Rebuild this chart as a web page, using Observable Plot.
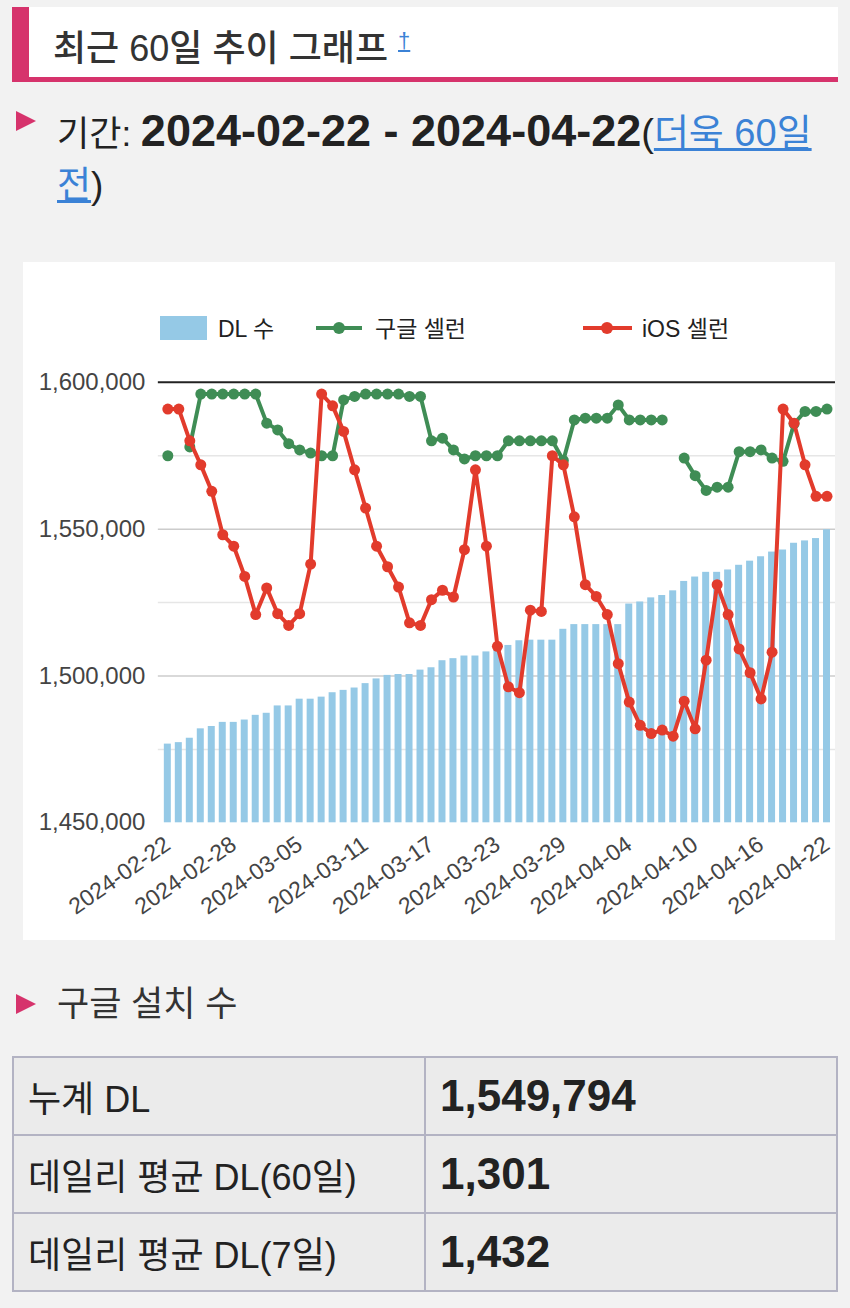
<!DOCTYPE html>
<html><head><meta charset="utf-8">
<script src="https://cdn.jsdelivr.net/npm/d3@7"></script>
<script src="https://cdn.jsdelivr.net/npm/@observablehq/plot@0.6"></script>
<style>
body{margin:0;background:#f2f2f2;width:850px;height:1308px;position:relative;overflow:hidden;font-family:"Liberation Sans","Noto Sans CJK KR",sans-serif;color:#222;}
.abs{position:absolute;white-space:nowrap;}
.hdr{position:absolute;left:12px;top:7px;width:809px;height:70px;background:#fff;border-left:17px solid #d6336c;border-bottom:5px solid #d6336c;}
.tri{position:absolute;width:0;height:0;border-left:20px solid #d6336c;border-top:10px solid transparent;border-bottom:10px solid transparent;}
a{color:#3b82d6;text-decoration:underline;}
.panel{position:absolute;left:23px;top:262px;width:812px;height:678px;background:#fff;}
.leg{position:absolute;font-size:23px;color:#222;line-height:24px;}
table{position:absolute;left:12px;top:1056px;width:826px;border-collapse:collapse;}
td{border:2px solid #b3b3c3;background:#ebebeb;height:76px;padding:0 0 0 14px;font-size:36px;color:#222;}
td.v{font-weight:bold;font-size:44px;}
#chart svg [aria-label^="x-axis"] text{font-size:23px;}
#chart svg [aria-label^="y-axis"] text{font-size:24px;}
</style></head>
<body>
<div class="hdr"><div class="abs" style="left:24px;top:12px;font-size:36px;font-weight:500;color:#333;line-height:44px;">최근 60일 추이 그래프 <sup style="font-size:22px;"><a>†</a></sup></div></div>

<div class="tri" style="left:16px;top:111px;"></div>
<div class="abs" style="left:57px;top:106px;font-size:38px;line-height:50px;color:#222;"><span style="font-size:35px;">기간: </span><b style="font-size:45px;">2024-02-22 - 2024-04-22</b>(<a>더욱 60일</a></div>
<div class="abs" style="left:57px;top:162px;font-size:37px;line-height:48px;color:#222;"><a>전</a>)</div>

<div class="panel">
  <div class="leg" style="left:137px;top:54px;width:47px;height:24px;background:#95c9e6;"></div>
  <div class="leg" style="left:195px;top:55px;">DL 수</div>
  <div class="leg" style="left:293px;top:64px;width:46px;height:4px;background:#3f8d55;"></div>
  <div class="leg" style="left:310px;top:60px;width:12px;height:12px;border-radius:6px;background:#3f8d55;"></div>
  <div class="leg" style="left:352px;top:55px;">구글 셀런</div>
  <div class="leg" style="left:560px;top:64px;width:49px;height:4px;background:#e23b2c;"></div>
  <div class="leg" style="left:578px;top:60px;width:12px;height:12px;border-radius:6px;background:#e23b2c;"></div>
  <div class="leg" style="left:619px;top:55px;">iOS 셀런</div>
  <div id="chart" style="position:absolute;left:0;top:0;"></div>
</div>

<div class="tri" style="left:16px;top:994px;"></div>
<div class="abs" style="left:57px;top:981px;font-size:35px;line-height:46px;color:#333;">구글 설치 수</div>

<table>
<tr><td style="width:396px;">누계 DL</td><td class="v">1,549,794</td></tr>
<tr><td>데일리 평균 DL(60일)</td><td class="v">1,301</td></tr>
<tr><td>데일리 평균 DL(7일)</td><td class="v">1,432</td></tr>
</table>

<script>
const dates = ["2024-02-22","2024-02-23","2024-02-24","2024-02-25","2024-02-26","2024-02-27","2024-02-28","2024-02-29",
"2024-03-01","2024-03-02","2024-03-03","2024-03-04","2024-03-05","2024-03-06","2024-03-07","2024-03-08","2024-03-09","2024-03-10",
"2024-03-11","2024-03-12","2024-03-13","2024-03-14","2024-03-15","2024-03-16","2024-03-17","2024-03-18","2024-03-19","2024-03-20",
"2024-03-21","2024-03-22","2024-03-23","2024-03-24","2024-03-25","2024-03-26","2024-03-27","2024-03-28","2024-03-29","2024-03-30",
"2024-03-31","2024-04-01","2024-04-02","2024-04-03","2024-04-04","2024-04-05","2024-04-06","2024-04-07","2024-04-08","2024-04-09",
"2024-04-10","2024-04-11","2024-04-12","2024-04-13","2024-04-14","2024-04-15","2024-04-16","2024-04-17","2024-04-18","2024-04-19",
"2024-04-20","2024-04-21","2024-04-22"];
// cumulative downloads (DL 수)
const dl = [1476800,1477300,1478800,1482000,1482800,1484200,1484200,1485000,1486600,1487300,1489800,1489800,1492100,1492100,1492800,
1494300,1495100,1495900,1497400,1499000,1500200,1500500,1500500,1502000,1502800,1505200,1505900,1506800,1506800,1508200,1509800,
1510400,1512000,1512200,1512200,1512200,1515900,1517500,1517500,1517500,1517500,1517500,1524500,1525200,1526600,1527400,1529000,
1532200,1533700,1535300,1535300,1536100,1537700,1539100,1540600,1542200,1542900,1545200,1546000,1546800,1549794];
// Google seller rank line, in chart units
const google = [1575000,null,1578000,1596000,1596000,1596000,1596000,1596000,1596000,1586100,1583800,1579100,1577000,1575900,1575000,
1575000,1594000,1595200,1596000,1596000,1596000,1596000,1595200,1595200,1580100,1581000,1577000,1573900,1575000,1575000,1575000,
1580100,1580100,1580100,1580100,1580100,1573400,1587200,1587800,1587800,1587800,1592300,1587200,1587200,1587200,1587200,null,
1574200,1568200,1563200,1564300,1564300,1576400,1576400,1577000,1574200,1573100,1585900,1590100,1590100,1590900];
// iOS seller rank line, in chart units
const ios = [1590900,1590900,1580100,1571900,1562900,1548100,1544200,1533900,1520900,1530000,1521200,1517200,1521200,1538100,1596000,
1592000,1583300,1570200,1557200,1544200,1537200,1530300,1518100,1517200,1526000,1529200,1526900,1543000,1570200,1544200,1510100,
1496300,1494300,1522400,1522000,1575000,1571900,1554200,1531100,1527100,1520900,1504200,1491100,1483200,1480400,1481600,1479500,
1491400,1482000,1505400,1531100,1520900,1509200,1501100,1492200,1508100,1590900,1586100,1571900,1561200,1561200];
const xTicks = ["2024-02-22","2024-02-28","2024-03-05","2024-03-11","2024-03-17","2024-03-23","2024-03-29","2024-04-04","2024-04-10","2024-04-16","2024-04-22"];
const yTicks = [1450000,1500000,1550000,1600000];
const majorGrid = [1500000,1550000];
const minorGrid = [1475000,1525000,1575000];

const rows = dates.map((d,i)=>({date:d, dl:dl[i], google:google[i], ios:ios[i]}));
const base = yTicks[0];

const chart = Plot.plot({
  width: 813, height: 678,
  marginLeft: 135, marginRight: 0, marginTop: 120, marginBottom: 117,
  style: {background:"transparent", fontFamily:"'Liberation Sans', Arial, sans-serif", fontSize:"22px", color:"#444", overflow:"visible"},
  x: {type:"band", domain: dates, paddingInner: 0.37, paddingOuter: 0.2, ticks: xTicks, tickSize: 0, tickRotate: -35, tickPadding: 19, label: null},
  y: {domain:[1450000,1600000], ticks: yTicks, tickFormat: d3.format(","), tickSize: 0, tickPadding: 13, label: null},
  marks: [
    Plot.ruleY(minorGrid, {stroke:"#e6e6e6", strokeWidth:1.5}),
    Plot.ruleY(majorGrid, {stroke:"#cccccc", strokeWidth:1.5}),
    Plot.barY(rows, {x:"date", y1: base, y2:"dl", fill:"#95c9e6"}),
    Plot.ruleY([1600000], {stroke:"#222", strokeWidth:2}),
    Plot.line(rows, {x:"date", y:"google", stroke:"#3f8d55", strokeWidth:4, defined: d => d.google != null}),
    Plot.dot(rows.filter(d => d.google != null), {x:"date", y:"google", r:5.5, fill:"#3f8d55"}),
    Plot.line(rows, {x:"date", y:"ios", stroke:"#e23b2c", strokeWidth:4}),
    Plot.dot(rows, {x:"date", y:"ios", r:5.5, fill:"#e23b2c"})
  ]
});
document.getElementById("chart").appendChild(chart);
</script>
</body></html>
